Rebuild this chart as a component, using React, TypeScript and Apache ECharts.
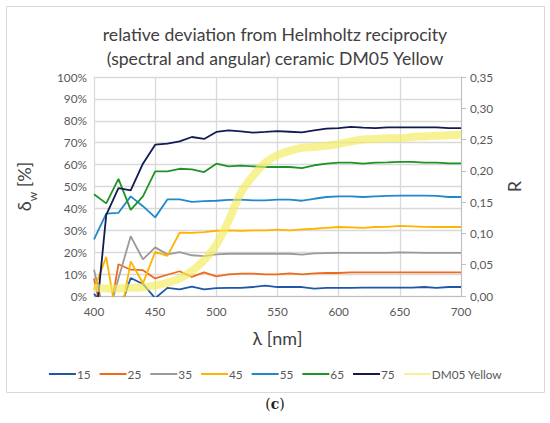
import React, { useEffect, useRef } from "react";
import * as echarts from "echarts";

const wavelengths = [400, 410, 420, 430, 440, 450, 460, 470, 480, 490, 500, 510, 520, 530, 540, 550, 560, 570, 580, 590, 600, 610, 620, 630, 640, 650, 660, 670, 680, 690, 700];
const xTicks = [400, 450, 500, 550, 600, 650, 700];

const s15 = [1, -5, -8, 8.2, 5.5, -1, 3.7, 3, 4.3, 3, 3.6, 3.7, 3.7, 4.1, 4.7, 4.1, 4.1, 4.1, 3.4, 3.7, 3.7, 3.7, 3.8, 3.8, 3.8, 3.8, 3.8, 4.1, 3.7, 4.1, 4.1];
const s25 = [8, -18, 14.5, 12, 11.8, 8, 9.7, 11.3, 8.7, 10.8, 9, 9.9, 10.2, 10.2, 9.9, 9.9, 10.3, 9.9, 10.3, 10.6, 10.5, 10.8, 10.8, 10.8, 10.8, 10.8, 10.8, 10.8, 10.8, 10.8, 10.8];
const s35 = [12, -12, 8, 27.3, 16.7, 22.2, 19, 20, 18.6, 18.2, 19, 19.3, 19.3, 19.3, 19.3, 19.3, 19.3, 18.9, 19.5, 19.6, 19.7, 19.7, 19.7, 19.7, 19.7, 19.9, 19.8, 19.7, 19.7, 19.7, 19.7];
const s45 = [3, 17.8, -15, 15.8, 5.8, 20.1, 18.3, 28.9, 28.8, 29.2, 29.8, 30, 29.8, 30, 30, 30.3, 30, 30.4, 30.7, 31.1, 31.5, 31.3, 31.1, 31.5, 31.6, 32, 31.8, 31.6, 31.5, 31.5, 31.5];
const s55 = [25.9, 37.6, 38, 45.5, 41, 35.9, 44.1, 44.1, 43, 43.3, 43.5, 43.9, 44, 43.7, 43.7, 44, 44, 43.5, 44.4, 45.2, 45.5, 45.5, 45.2, 45.5, 45.7, 45.8, 45.8, 45.8, 45.7, 45.2, 45.2];
const s65 = [46.5, 42.3, 53.5, 39.3, 45.5, 56.9, 56.9, 58.1, 57.8, 56.6, 60.4, 59.2, 59.5, 59.2, 58.9, 58.9, 58.9, 58.4, 59.7, 60.4, 60.9, 60.9, 60.4, 60.9, 61, 61.2, 61.2, 60.9, 60.9, 60.6, 60.6];
const s75 = [-20, 37, 49.3, 48.2, 60.4, 69.1, 69.6, 70.6, 72.6, 71.7, 74.9, 75.6, 75.2, 74.6, 74.9, 75.3, 75, 74.7, 75.6, 76.4, 76.7, 77.2, 76.9, 76.7, 77, 77, 77, 77, 77, 76.7, 76.7];
const dm05 = [0.013, 0.012, 0.012, 0.013, 0.014, 0.017, 0.021, 0.028, 0.04, 0.057, 0.082, 0.12, 0.165, 0.192, 0.213, 0.225, 0.232, 0.237, 0.238, 0.24, 0.243, 0.247, 0.25, 0.251, 0.252, 0.252, 0.254, 0.255, 0.256, 0.257, 0.258];

const seriesNames = ["15", "25", "35", "45", "55", "65", "75"];
const seriesValues = [s15, s25, s35, s45, s55, s65, s75];
const seriesColors = ["#1f56a8", "#f06a1c", "#9a9a9a", "#ffb400", "#2288cc", "#1f9424", "#141a52"];
const dmName = "DM05 Yellow";

const FONT = "Lato";
const GRAY = "#595959";

export default function App() {
  const ref = useRef<HTMLDivElement>(null);
  useEffect(() => {
    if (!ref.current) return;
    const chart = echarts.init(ref.current, null, { renderer: "svg" });
    const lines: any[] = seriesNames.map((name, k) => ({
      name,
      type: "line",
      yAxisIndex: 0,
      data: wavelengths.map((w, i) => [w, seriesValues[k][i]]),
      showSymbol: false,
      symbol: "none",
      lineStyle: { width: 1.8, color: seriesColors[k] },
      itemStyle: { color: seriesColors[k] },
      clip: true,
    }));
    lines.push({
      name: dmName,
      type: "line",
      yAxisIndex: 1,
      data: wavelengths.map((w, i) => [w, dm05[i]]),
      showSymbol: false,
      symbol: "none",
      smooth: 0.3,
      lineStyle: { width: 8, color: "#f2ec5a", opacity: 0.65 },
      itemStyle: { color: "#f5f08c" },
      clip: true,
    });
    chart.setOption({
      animation: false,
      textStyle: { fontFamily: FONT },
      title: {
        text: "relative deviation from Helmholtz reciprocity\n(spectral and angular) ceramic DM05 Yellow",
        left: "center",
        top: 17,
        textStyle: { fontFamily: FONT, fontSize: 17.6, fontWeight: "normal", color: "#404040", lineHeight: 24 },
      },
      grid: { left: 94, right: 89, top: 77, bottom: 127 },
      xAxis: {
        type: "value",
        min: 400,
        max: 700,
        interval: 50,
        name: "λ [nm]",
        nameLocation: "middle",
        nameGap: 33,
        nameTextStyle: { fontFamily: FONT, fontSize: 18, color: "#404040" },
        axisLine: { show: true, lineStyle: { color: "#bfbfbf", width: 1 } },
        axisTick: { show: false },
        axisLabel: {
          color: GRAY,
          fontSize: 11.8,
          fontFamily: FONT,
          margin: 9,
          customValues: xTicks,
        },
        splitLine: { show: true, lineStyle: { color: "#d9d9d9", width: 1.3 } },
      },
      yAxis: [
        {
          type: "value",
          min: 0,
          max: 100,
          interval: 10,
          position: "left",
          name: "{a|δ}{b|w}{a| [%]}",
          nameLocation: "middle",
          nameRotate: 90,
          nameGap: 56,
          nameTextStyle: {
            rich: {
              a: { fontFamily: FONT, fontSize: 18, color: "#404040", lineHeight: 28, verticalAlign: "middle" },
              b: { fontFamily: FONT, fontSize: 12, color: "#404040", lineHeight: 28, verticalAlign: "bottom" },
            },
          },
          axisLine: { show: false },
          axisTick: { show: false },
          axisLabel: { color: GRAY, fontSize: 11.8, fontFamily: FONT, margin: 7, formatter: "{value}%" },
          splitLine: { show: true, lineStyle: { color: "#d9d9d9", width: 1.3 } },
        },
        {
          type: "value",
          min: 0,
          max: 0.35,
          interval: 0.05,
          position: "right",
          name: "R",
          nameLocation: "middle",
          nameRotate: 90,
          nameGap: 44,
          nameTextStyle: { fontFamily: FONT, fontSize: 18, color: "#404040" },
          axisLine: { show: true, lineStyle: { color: "#bfbfbf", width: 1 } },
          axisTick: { show: true, length: 5, inside: false, lineStyle: { color: "#bfbfbf" } },
          axisLabel: {
            color: GRAY,
            fontSize: 11.8,
            fontFamily: FONT,
            margin: 9,
            formatter: (v: number) => v.toFixed(2).replace(".", ","),
          },
          splitLine: { show: false },
        },
      ],
      legend: {
        bottom: 38,
        left: "center",
        itemWidth: 27,
        itemHeight: 6,
        itemGap: 8,
        itemStyle: { opacity: 0 },
        textStyle: { color: GRAY, fontSize: 11.8, fontFamily: FONT, padding: [0, 0, 0, -4] },
        data: [...seriesNames, dmName],
      },
      graphic: [
        {
          type: "rect",
          shape: { x: 6.5, y: 6.5, width: 538, height: 386 },
          style: { fill: "none", stroke: "#d9d9d9", lineWidth: 1 },
          silent: true,
        },
        {
          type: "text",
          left: "center",
          top: 397,
          style: {
            text: "({b|c})",
            font: "14px 'DejaVu Serif', serif",
            fill: "#222",
            rich: { b: { fontWeight: "bold", fontSize: 14, fontFamily: "'DejaVu Serif', serif", fill: "#222" } },
          },
        },
      ],
      series: lines,
    });
    return () => chart.dispose();
  }, []);
  return <div ref={ref} style={{ position: "fixed", left: 0, top: 0, width: 550, height: 423, background: "#fff" }} />;
}
